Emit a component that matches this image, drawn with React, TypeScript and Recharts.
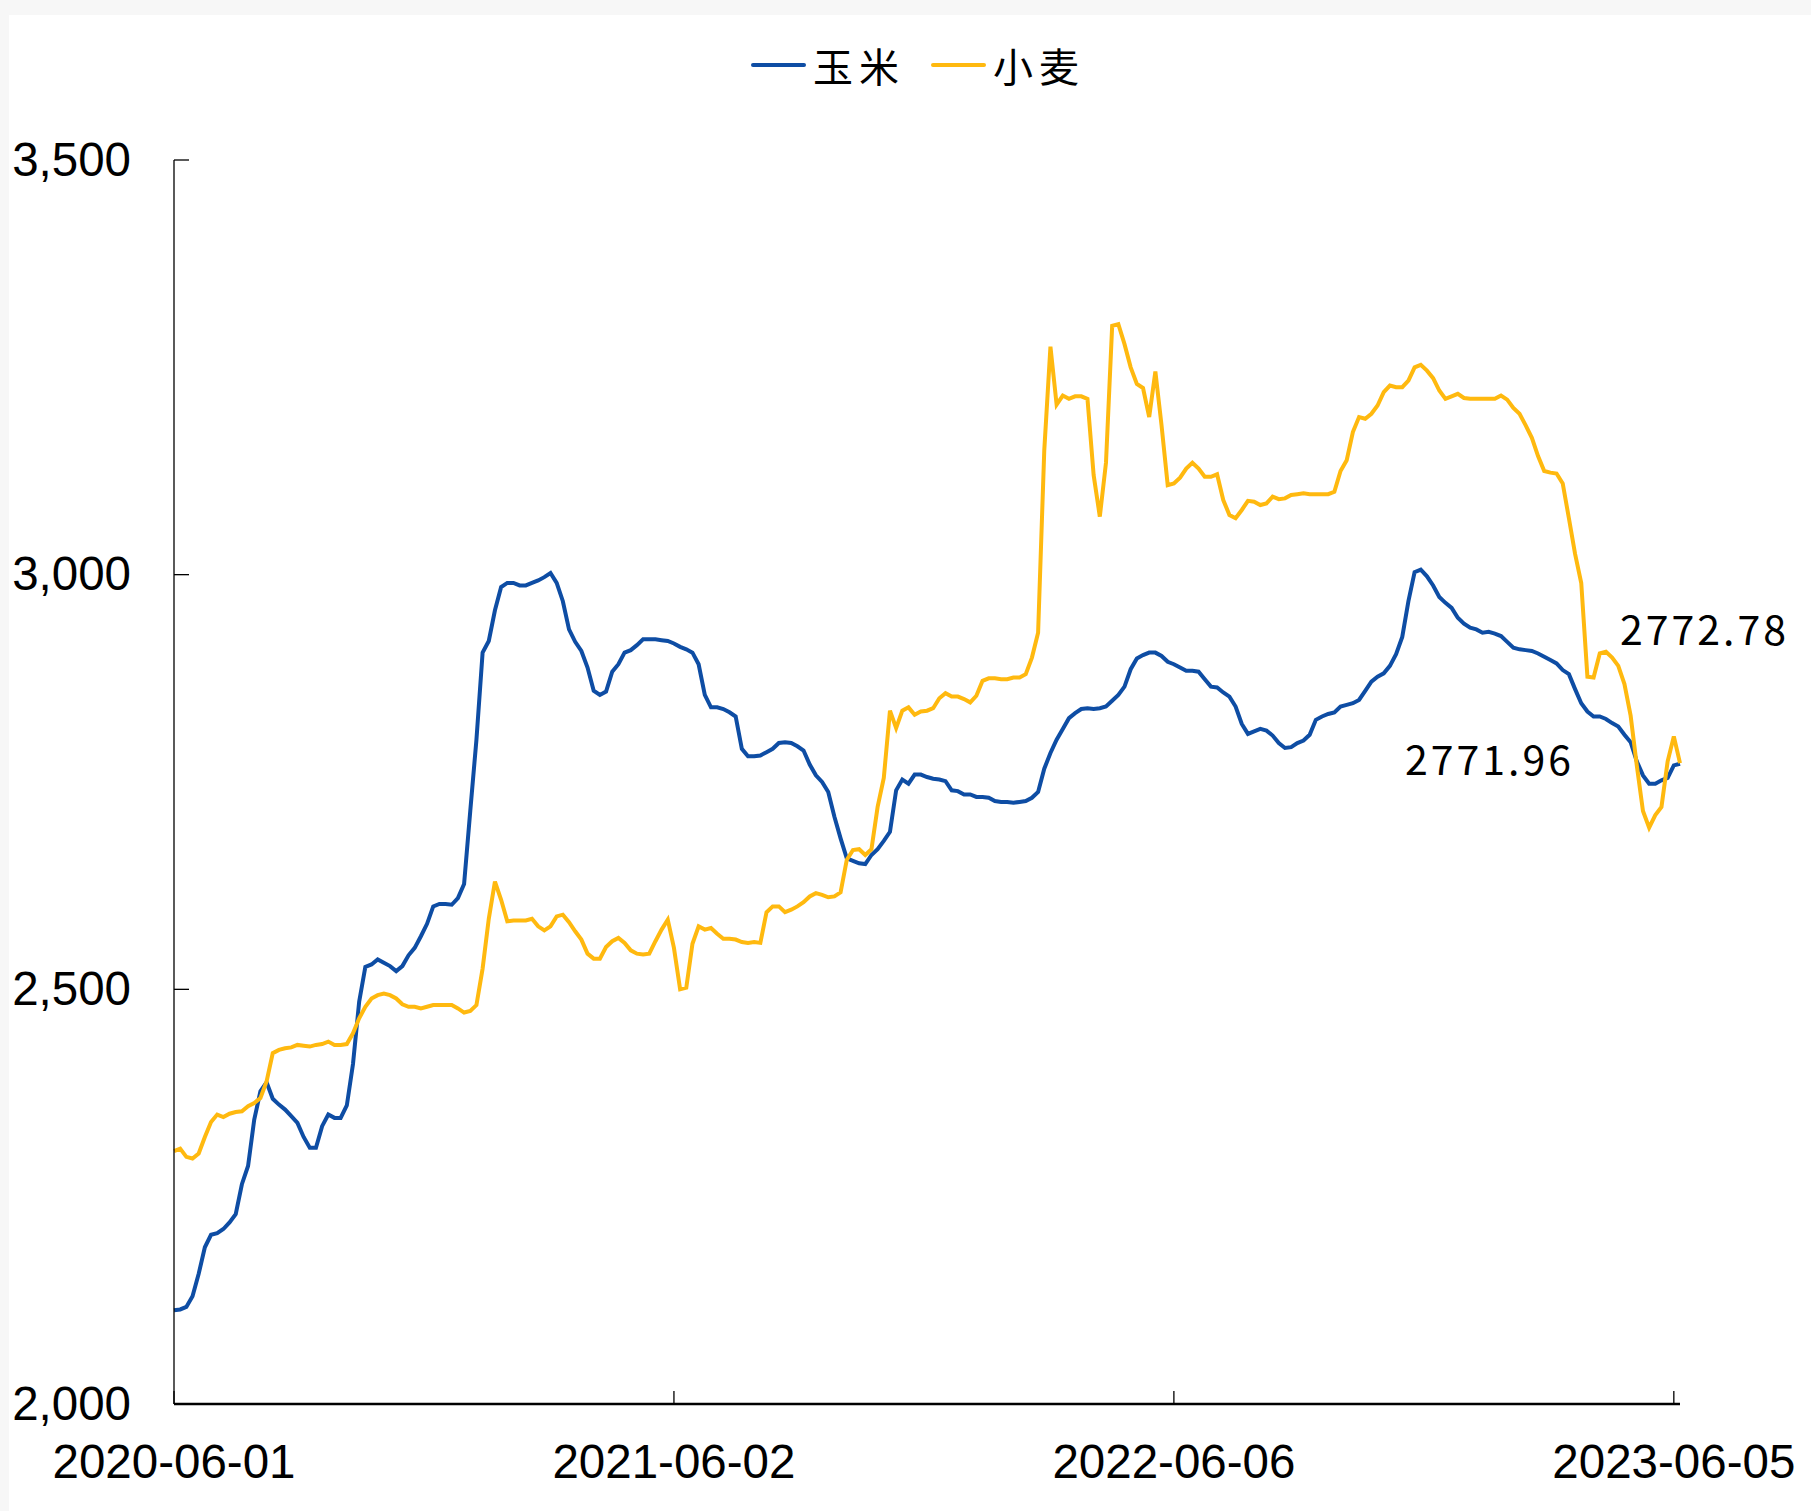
import { LineChart, Line, XAxis, YAxis } from "recharts";

const seriesNames = ["玉米", "小麦"];
const seriesColors = ["#0E4DA4", "#FFB90F"];
const tickIndex = [0, 81, 162, 243];
const tickLabels = ["2020-06-01", "2021-06-02", "2022-06-06", "2023-06-05"];
const yTicks = [2000, 2500, 3000, 3500];

// one sample every ~3 trading days
const corn = [
  2113, 2114, 2117, 2130, 2157, 2189, 2204, 2206, 2211, 2219,
  2229, 2265, 2287, 2343, 2377, 2388, 2368, 2361, 2355, 2347,
  2339, 2322, 2309, 2309, 2335, 2349, 2345, 2345, 2360, 2410,
  2485, 2527, 2530, 2536, 2532, 2528, 2522, 2528, 2541, 2550,
  2564, 2579, 2600, 2603, 2603, 2602, 2610, 2627, 2715, 2801,
  2906, 2920, 2957, 2985, 2990, 2990, 2987, 2987, 2990, 2993,
  2997, 3002, 2990, 2968, 2934, 2919, 2908, 2888, 2860, 2855,
  2859, 2883, 2892, 2906, 2909, 2915, 2922, 2922, 2922, 2921,
  2920, 2917, 2913, 2910, 2906, 2892, 2855, 2840, 2840, 2838,
  2834, 2829, 2790, 2781, 2781, 2782, 2786, 2790, 2797, 2798,
  2797, 2793, 2788, 2771, 2758, 2750, 2738, 2708, 2682, 2658,
  2655, 2652, 2651, 2662, 2669, 2679, 2690, 2740, 2753, 2748,
  2759, 2759, 2756, 2754, 2753, 2751, 2740, 2739, 2735, 2735,
  2732, 2732, 2731, 2727, 2726, 2726, 2725, 2726, 2727, 2731,
  2738, 2766, 2785, 2801, 2814, 2827, 2833, 2838, 2839, 2838,
  2839, 2841, 2848, 2855, 2865, 2886, 2899, 2903, 2906, 2906,
  2902, 2895, 2892, 2888, 2884, 2884, 2883, 2874, 2865, 2864,
  2858, 2853, 2841, 2820, 2808, 2811, 2814, 2812, 2806, 2797,
  2791, 2792, 2797, 2800, 2807, 2825, 2829, 2832, 2834, 2841,
  2843, 2845, 2849, 2860, 2871, 2877, 2881, 2890, 2904, 2925,
  2968, 3003, 3006, 2998, 2987, 2973, 2966, 2960, 2948, 2941,
  2936, 2934, 2930, 2931, 2929, 2926, 2919, 2912, 2910, 2909,
  2908, 2905, 2901, 2897, 2893, 2885, 2880, 2862, 2845, 2835,
  2829, 2829, 2826, 2821, 2817, 2807, 2798, 2775, 2758, 2748,
  2748, 2752, 2755, 2770, 2771.96,
];

const wheat = [
  2305, 2308, 2298, 2296, 2302, 2322, 2340, 2349, 2346, 2350,
  2352, 2353, 2359, 2363, 2369, 2389, 2423, 2427, 2429, 2430,
  2433, 2432, 2431, 2433, 2434, 2437, 2433, 2433, 2434, 2447,
  2465, 2479, 2489, 2493, 2495, 2493, 2489, 2482, 2479, 2479,
  2477, 2479, 2481, 2481, 2481, 2481, 2477, 2472, 2474, 2481,
  2525, 2585, 2630, 2608, 2582, 2583, 2583, 2583, 2585, 2576,
  2571, 2576, 2588, 2590, 2581, 2570, 2560, 2543, 2537, 2537,
  2551, 2558, 2562, 2556, 2547, 2543, 2542, 2543, 2558, 2572,
  2584, 2550, 2500, 2502, 2555, 2576, 2572, 2574, 2567, 2561,
  2561, 2560, 2557, 2556, 2557, 2556, 2593, 2600, 2600, 2593,
  2596, 2600, 2605, 2612, 2616, 2614, 2611, 2612, 2617, 2656,
  2668, 2669, 2662, 2669, 2720, 2755, 2836, 2815, 2836, 2840,
  2831, 2835, 2836, 2839, 2851, 2857, 2853, 2853, 2850, 2846,
  2854, 2872, 2875, 2875, 2874, 2874, 2876, 2876, 2880, 2900,
  2930, 3150, 3275, 3205, 3216, 3212, 3215, 3215, 3212, 3120,
  3070, 3135, 3300, 3302, 3278, 3250, 3230, 3225, 3190, 3245,
  3180, 3108, 3110, 3117, 3128, 3135, 3128, 3118, 3118, 3121,
  3090, 3072, 3068, 3078, 3089, 3088, 3084, 3086, 3094, 3091,
  3092, 3096, 3097, 3098, 3097, 3097, 3097, 3097, 3100, 3125,
  3138, 3172, 3190, 3188, 3194, 3204, 3220, 3228, 3226, 3226,
  3234, 3250, 3253, 3246, 3237, 3222, 3212, 3215, 3218, 3213,
  3212, 3212, 3212, 3212, 3212, 3216, 3211, 3201, 3194, 3180,
  3165, 3143, 3125, 3123, 3122, 3110, 3068, 3025, 2990, 2877,
  2876, 2905, 2907, 2900, 2890, 2868, 2830, 2770, 2715, 2695,
  2710, 2720, 2775, 2805, 2772.78,
];

const rows = corn.map((v, i) => ({ i, corn: v, wheat: wheat[i] }));
const last = rows.length - 1;

const latin = "'Liberation Sans', Arial, sans-serif";
const cjk = "'Noto Sans CJK SC', sans-serif";

function XTick({ x, y, payload }: any) {
  const label = tickLabels[tickIndex.indexOf(payload.value)];
  return (
    <g>
      <line x1={x} x2={x} y1={y} y2={y - 13} stroke="#000" strokeWidth={1.3} />
      <text x={x} y={y + 74} textAnchor="middle" fontSize={47.5} fontFamily={latin} fill="#000">
        {label}
      </text>
    </g>
  );
}

function YTick({ x, y, payload }: any) {
  return (
    <g>
      <line x1={x} x2={x + 15} y1={y} y2={y} stroke="#000" strokeWidth={1.3} />
      <text x={x - 43} y={y} dy="0.33em" textAnchor="end" fontSize={47.5} fontFamily={latin} fill="#000">
        {payload.value.toLocaleString("en-US")}
      </text>
    </g>
  );
}

const endLabel = (dx: number, dy: number) => (p: any) =>
  p.index === last ? (
    <text
      key="end"
      x={p.x + dx}
      y={p.y + dy}
      fontSize={41}
      letterSpacing={3}
      fontFamily={cjk}
      fill="#000"
    >
      {p.value}
    </text>
  ) : null;

export default function App() {
  return (
    <div style={{ position: "absolute", left: 0, top: 0, width: 1811, height: 1511, background: "#F7F7F7" }}>
      <div style={{ position: "absolute", left: 9, top: 15, right: 0, bottom: 0, background: "#fff" }} />

      {/* legend */}
      <div style={{ position: "absolute", left: 751, top: 40, height: 50, display: "flex", alignItems: "center" }}>
        {seriesNames.map((name, k) => (
          <div key={name} style={{ display: "flex", alignItems: "center", marginRight: 26 }}>
            <div style={{ width: 55, height: 4, borderRadius: 2, background: seriesColors[k] }} />
            <span style={{ marginLeft: 7, fontSize: 40, letterSpacing: 6, fontFamily: cjk, color: "#000", lineHeight: "50px" }}>
              {name}
            </span>
          </div>
        ))}
      </div>

      <div style={{ position: "absolute", left: 0, top: 0 }}>
        <LineChart width={1811} height={1511} data={rows} margin={{ top: 160, right: 131, bottom: 0, left: 0 }}>
          <XAxis
            dataKey="i"
            type="number"
            domain={[0, 244]}
            ticks={tickIndex}
            height={107}
            tickSize={0}
            tickMargin={0}
            tickLine={false}
            tick={<XTick />}
            axisLine={{ stroke: "#000", strokeWidth: 2.5 }}
          />
          <YAxis
            type="number"
            domain={[2000, 3500]}
            ticks={yTicks}
            width={174}
            tickSize={0}
            tickMargin={0}
            tickLine={false}
            tick={<YTick />}
            axisLine={{ stroke: "#000", strokeWidth: 1.3 }}
          />
          <Line
            dataKey="corn"
            name={seriesNames[0]}
            stroke={seriesColors[0]}
            strokeWidth={4}
            dot={false}
            isAnimationActive={false}
            label={endLabel(-275, 11)}
          />
          <Line
            dataKey="wheat"
            name={seriesNames[1]}
            stroke={seriesColors[1]}
            strokeWidth={4}
            dot={false}
            isAnimationActive={false}
            label={endLabel(-60, -118)}
          />
        </LineChart>
      </div>
    </div>
  );
}
